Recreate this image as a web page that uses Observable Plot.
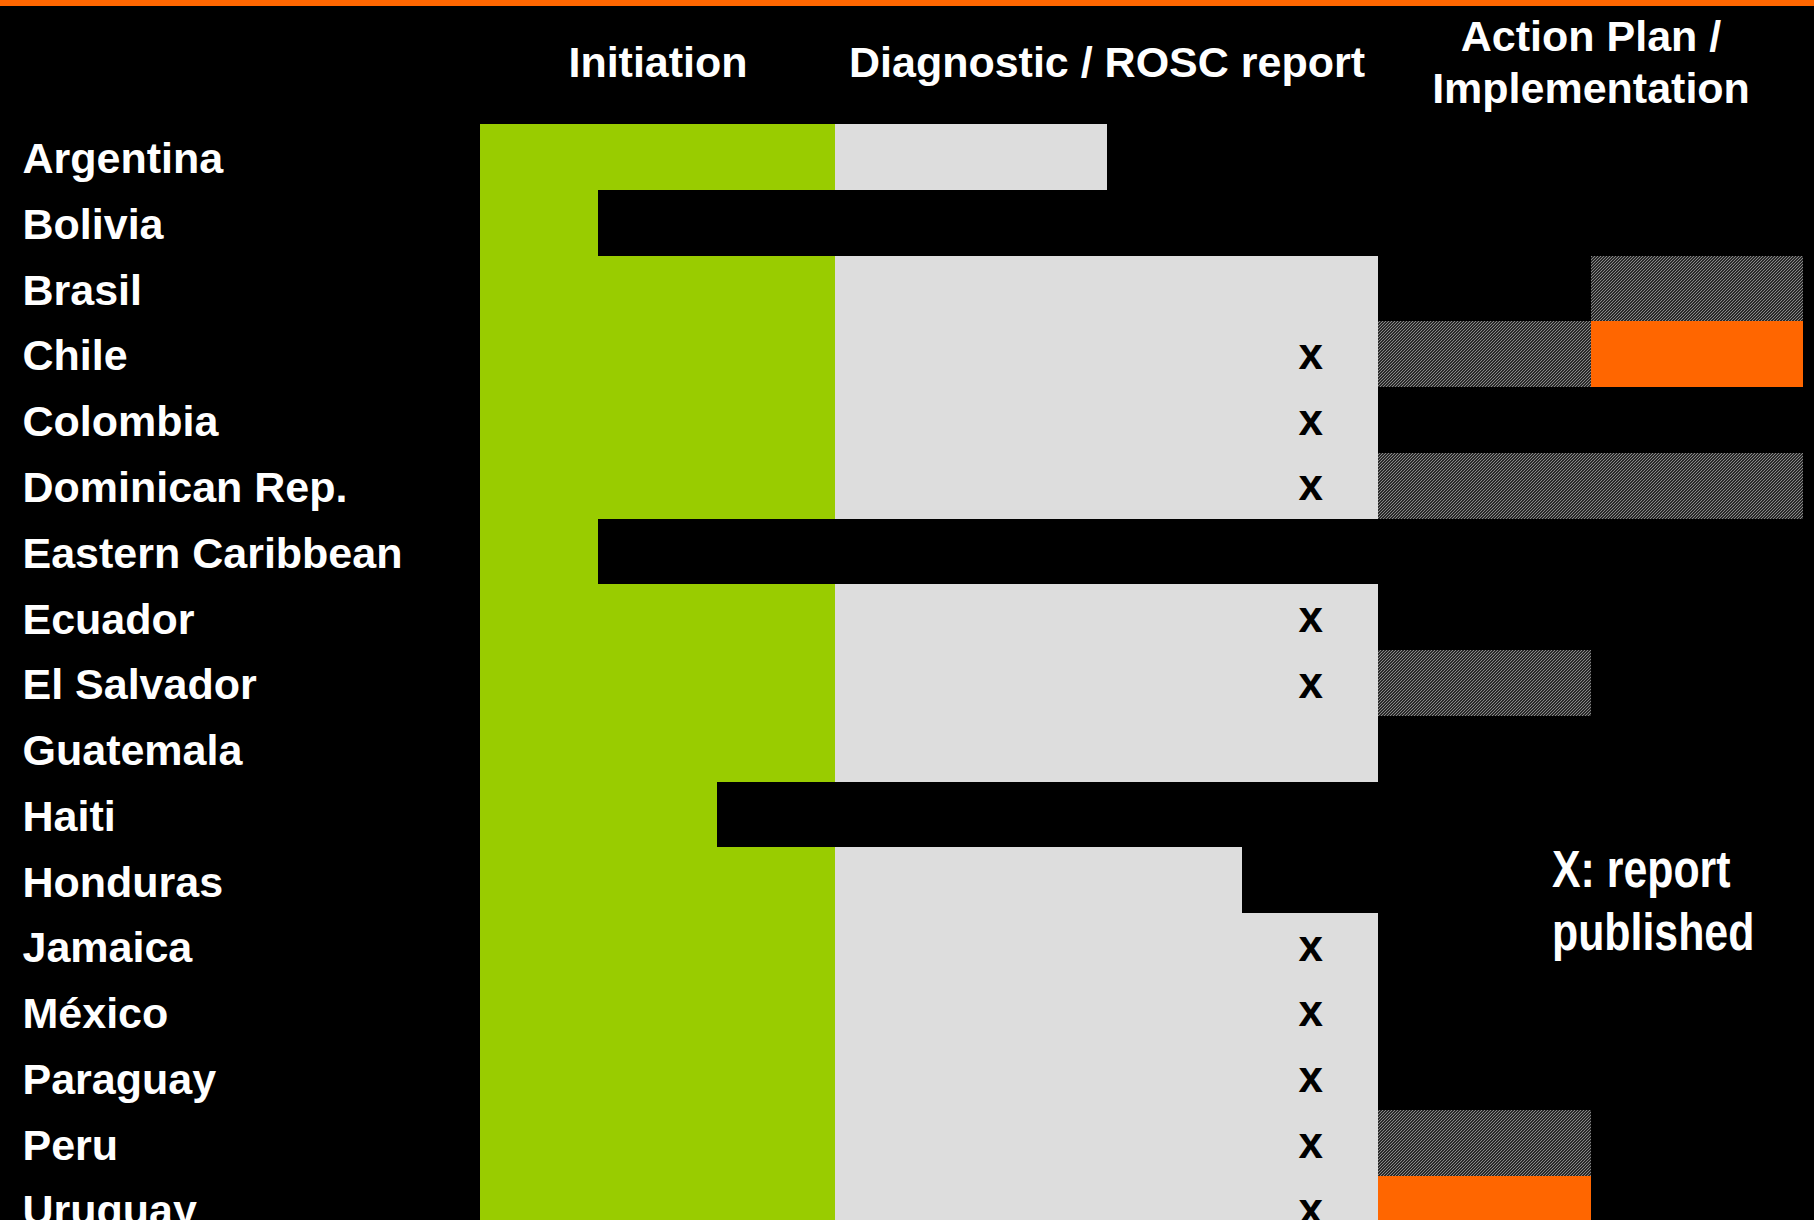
<!DOCTYPE html>
<html><head><meta charset="utf-8">
<script src="https://cdn.jsdelivr.net/npm/d3@7"></script>
<script src="https://cdn.jsdelivr.net/npm/@observablehq/plot@0.6"></script>
<style>
html,body{margin:0;padding:0;background:#000;overflow:hidden;width:1814px;height:1220px;position:relative}
#topbar{height:6px;background:#FF6600}
#chart svg{display:block}
#legend{position:absolute;left:1552px;top:838px;color:#fff;font-family:"Liberation Sans",Arial,Helvetica,sans-serif;font-weight:bold;font-size:51px;line-height:63px;transform:scaleX(0.84);transform-origin:0 0;white-space:nowrap}
</style></head><body>
<div id="topbar"></div>
<div id="chart"></div>
<div id="legend">X: report<br>published</div>
<script>
const countries = ["Argentina","Bolivia","Brasil","Chile","Colombia","Dominican Rep.","Eastern Caribbean","Ecuador","El Salvador","Guatemala","Haiti","Honduras","Jamaica","México","Paraguay","Peru","Uruguay"];
const phases = ["Initiation","Diagnostic / ROSC report","Action Plan /\nImplementation"];
// progress within each phase (share of the phase column that is filled)
const initiationProgress = [1, 1/3, 1, 1, 1, 1, 1/3, 1, 1, 1, 2/3, 1, 1, 1, 1, 1, 1];
const diagnosticProgress = [0.5, 0, 1, 1, 1, 1, 0, 1, 1, 1, 0, 0.75, 1, 1, 1, 1, 1];
const reportPublished   = [0, 0, 0, 1, 1, 1, 0, 1, 1, 0, 0, 0, 1, 1, 1, 1, 1];
// action plan / implementation, two halves: "" none, "hatched" in progress, "done" completed
const actionPlanFirstHalf  = ["", "", "", "hatched", "", "hatched", "", "", "hatched", "", "", "", "", "", "", "hatched", "done"];
const actionPlanSecondHalf = ["", "", "hatched", "done", "", "hatched", "", "", "", "", "", "", "", "", "", "", ""];
const reportMarkAt = 0.875;

const rows = countries.map((c, i) => ({country: c, init: initiationProgress[i], diag: diagnosticProgress[i], report: reportPublished[i] === 1}));
const actionSegments = [];
countries.forEach((c, i) => {
  [actionPlanFirstHalf[i], actionPlanSecondHalf[i]].forEach((s, h) => {
    if (s) actionSegments.push({country: c, x1: 2 + h * 0.5, x2: 2 + (h + 1) * 0.5, status: s});
  });
});
const header = phases.map((p, i) => ({phase: p, x: i + 0.5}));

const font = '"Liberation Sans", Arial, Helvetica, sans-serif';
const chart = Plot.plot({
  width: 1814, height: 1236,
  marginTop: 118, marginBottom: 0, marginLeft: 0, marginRight: 0,
  style: {background: "#000", fontFamily: font, overflow: "visible"},
  x: {type: "linear", domain: [0, 1, 2, 3], range: [480, 835, 1378, 1803], axis: null},
  y: {type: "band", domain: countries, padding: 0, round: false, axis: null},
  marks: [
    Plot.barX(rows, {y: "country", x1: 0, x2: "init", fill: "#99CC00", shapeRendering: "crispEdges"}),
    Plot.barX(rows.filter(d => d.diag > 0), {y: "country", x1: 1, x2: d => 1 + d.diag, fill: "#DDDDDD", shapeRendering: "crispEdges"}),
    Plot.barX(actionSegments.filter(d => d.status === "hatched"), {y: "country", x1: "x1", x2: "x2", fill: "url(#hatch)", shapeRendering: "crispEdges"}),
    Plot.barX(actionSegments.filter(d => d.status === "done"), {y: "country", x1: "x1", x2: "x2", fill: "#FF6600", shapeRendering: "crispEdges"}),
    Plot.text(rows.filter(d => d.report), {y: "country", x: () => 1 + reportMarkAt, text: () => "x", fill: "#000", fontSize: 44, fontWeight: "bold"}),
    Plot.text(rows, {y: "country", text: "country", frameAnchor: "left", dx: 22, dy: 2, textAnchor: "start", fill: "#fff", fontSize: 43, fontWeight: "bold"}),
    Plot.text(header, {x: "x", text: "phase", frameAnchor: "top", dy: -64, lineAnchor: "middle", lineHeight: 1.21, fill: "#fff", fontSize: 43, fontWeight: "bold"})
  ]
});

const ns = "http://www.w3.org/2000/svg";
const defs = document.createElementNS(ns, "defs");
defs.innerHTML = '<pattern id="hatch" patternUnits="userSpaceOnUse" width="3" height="3">' +
  '<rect width="3" height="3" fill="#000"/>' +
  '<path d="M-1,1 L1,-1 M0,3 L3,0 M2,4 L4,2" stroke="#8e8e8e" stroke-width="1.1"/></pattern>';
chart.insertBefore(defs, chart.firstChild);
document.getElementById("chart").appendChild(chart);
</script>
</body></html>
